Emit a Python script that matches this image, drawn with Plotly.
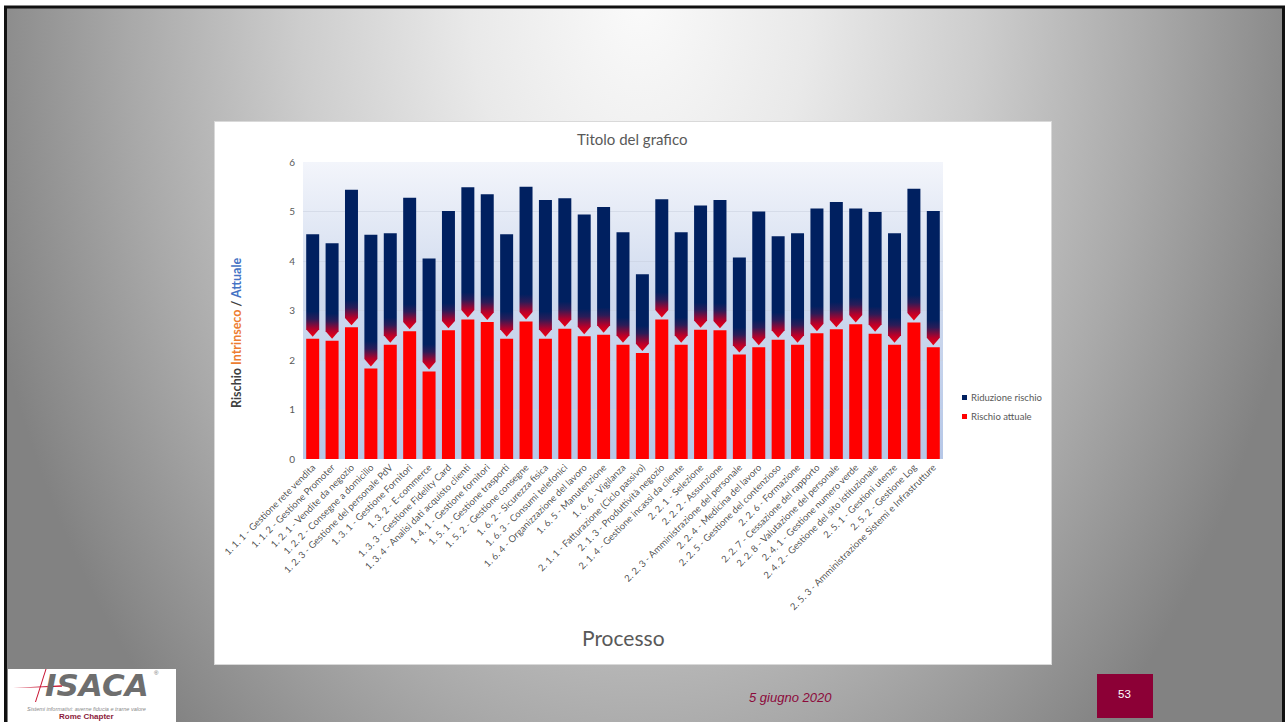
import base64
import plotly.graph_objects as go

# ---------------------------------------------------------------- data
categories = [
    "1. 1. 1 - Gestione rete vendita",
    "1. 1. 2 - Gestione Promoter",
    "1. 2. 1 - Vendite da negozio",
    "1. 2. 2 - Consegne a domicilio",
    "1. 2. 3 - Gestione del personale PdV",
    "1. 3. 1 - Gestione Fornitori",
    "1. 3. 2 - E-commerce",
    "1. 3. 3 - Gestione Fidelity Card",
    "1. 3. 4 - Analisi dati acquisto clienti",
    "1. 4. 1 - Gestione fornitori",
    "1. 5. 1 - Gestione trasporti",
    "1. 5. 2 - Gestione consegne",
    "1. 6. 2 - Sicurezza fisica",
    "1. 6. 3 - Consumi telefonici",
    "1. 6. 4 - Organizzazione del lavoro",
    "1. 6. 5 - Manutenzione",
    "1. 6. 6 - Vigilanza",
    "2. 1. 1 - Fatturazione (Ciclo passivo)",
    "2. 1. 3 - Produttività negozio",
    "2. 1. 4 - Gestione incassi da cliente",
    "2. 2. 1 - Selezione",
    "2. 2. 2 - Assunzione",
    "2. 2. 3 - Amministrazione del personale",
    "2. 2. 4 - Medicina del lavoro",
    "2. 2. 5 - Gestione del contenzioso",
    "2. 2. 6 - Formazione",
    "2. 2. 7 - Cessazione del rapporto",
    "2. 2. 8 - Valutazione del personale",
    "2. 4. 1 - Gestione numero verde",
    "2. 4. 2 - Gestione del sito istituzionale",
    "2. 5. 1 - Gestioni utenze",
    "2. 5. 2 - Gestione Log",
    "2. 5. 3 - Amministrazione Sistemi e Infrastrutture",
]

rischio_attuale = [
    2.43, 2.39, 2.66, 1.83, 2.31, 2.58, 1.77, 2.60, 2.82, 2.77, 2.43,
    2.78, 2.43, 2.63, 2.48, 2.51, 2.31, 2.14, 2.82, 2.31, 2.61, 2.60,
    2.11, 2.26, 2.41, 2.31, 2.54, 2.62, 2.72, 2.53, 2.31, 2.76, 2.26,
]

riduzione_rischio = [
    2.11, 1.97, 2.78, 2.70, 2.25, 2.70, 2.28, 2.41, 2.67, 2.58, 2.11,
    2.72, 2.80, 2.64, 2.46, 2.58, 2.27, 1.59, 2.43, 2.27, 2.51, 2.63,
    1.96, 2.74, 2.09, 2.25, 2.52, 2.57, 2.34, 2.46, 2.25, 2.70, 2.75,
]

y_ticks = [0, 1, 2, 3, 4, 5, 6]

# ---------------------------------------------------------------- page geometry
PAGE_W, PAGE_H = 1285, 722
PLOT_L, PLOT_R, PLOT_T, PLOT_B = 303, 943, 162, 459
PW, PH = PLOT_R - PLOT_L, PLOT_B - PLOT_T

def px(x):
    return (x - PLOT_L) / PW

def py(y):
    return (PLOT_B - y) / PH

NAVY = "#002060"
RED = "#FF0000"
TXT = "#595959"
TICK_TXT = "rgba(80,80,80,0.98)"
MAROON = "#8C0A3B"
CHART_FONT = "Lato"

# ---------------------------------------------------------------- backdrop (slide + chart frame)
svg = f"""<svg xmlns='http://www.w3.org/2000/svg' width='{PAGE_W}' height='{PAGE_H}' viewBox='0 0 {PAGE_W} {PAGE_H}' preserveAspectRatio='none'>
<defs>
<radialGradient id='slide' gradientUnits='userSpaceOnUse' cx='640' cy='0' r='1000'
  gradientTransform='matrix(0.68 0 0 1 204.8 0)'>
  <stop offset='0' stop-color='#fafafa'/>
  <stop offset='0.25' stop-color='#e9e9e9'/>
  <stop offset='0.5' stop-color='#cdcdcd'/>
  <stop offset='0.75' stop-color='#a9a9a9'/>
  <stop offset='0.95' stop-color='#8a8a8a'/>
  <stop offset='1' stop-color='#828282'/>
</radialGradient>
<linearGradient id='plotbg' x1='0' y1='0' x2='0' y2='1'>
  <stop offset='0' stop-color='#f3f5fb'/>
  <stop offset='0.45' stop-color='#cfdaee'/>
  <stop offset='1' stop-color='#b6c7e7'/>
</linearGradient>
</defs>
<rect x='0' y='0' width='{PAGE_W}' height='{PAGE_H}' fill='#ffffff'/>
<rect x='5.5' y='7' width='1278' height='730' fill='url(#slide)' stroke='#111111' stroke-width='3'/>
<rect x='214.5' y='121.5' width='837' height='543' fill='#ffffff' stroke='#d9d9d9' stroke-width='1'/>
<rect x='{PLOT_L}' y='{PLOT_T}' width='{PW}' height='{PH}' fill='url(#plotbg)'/>
<rect x='8' y='669' width='168' height='60' fill='#ffffff'/>
<path d='M13 688 L62 685.3 L62 686.8 Z' fill='#c8102e'/>
<path d='M45.5 669 L46.5 669 L36 702 L35 702 Z' fill='#c8102e'/>
<rect x='1097' y='674' width='56' height='44' fill='#8C0036'/>
</svg>"""
backdrop_uri = "data:image/svg+xml;base64," + base64.b64encode(svg.encode("utf-8")).decode("ascii")

# ---------------------------------------------------------------- traces
fig = go.Figure()
xs = list(range(len(categories)))
BAR_W = 0.67
HW = BAR_W / 2
TIP_GAP = 0.04     # space between arrow tip and red bar
ARROW_H = 0.15     # height of the V-shaped bottom
FADE = 0.55        # height over which the navy fades into red

# "Rischio attuale" — red bars
fig.add_trace(go.Bar(
    x=xs, y=rischio_attuale, width=BAR_W,
    marker=dict(color=RED, line=dict(width=0)),
    name="Rischio attuale", showlegend=False, hoverinfo="skip",
))

# "Riduzione rischio" — navy segments stacked on the red bars,
# with a V-shaped bottom that fades into red
for i, (base, delta) in enumerate(zip(rischio_attuale, riduzione_rischio)):
    top = base + delta
    tip = base + TIP_GAP
    shoulder = tip + ARROW_H
    fig.add_trace(go.Scatter(
        x=[i - HW, i + HW, i + HW, i, i - HW, i - HW],
        y=[top, top, shoulder, tip, shoulder, top],
        mode="lines", line=dict(width=0, color="rgba(0,0,0,0)"),
        fill="toself",
        fillgradient=dict(
            type="vertical",
            colorscale=[[0, "#f00010"], [0.3, "#b8002a"], [0.7, "#2a1c58"], [1, NAVY]],
            start=tip, stop=base + FADE,
        ),
        showlegend=False, hoverinfo="skip",
    ))

# ---------------------------------------------------------------- text
def note(text, x, y, size, color, family=CHART_FONT, xanchor="center", angle=0, weight="normal"):
    return dict(text=text, x=px(x), y=py(y), xref="paper", yref="paper",
                xanchor=xanchor, yanchor="middle", textangle=angle,
                showarrow=False,
                font=dict(family=family, size=size, color=color, weight=weight))

annotations = [
    note("Titolo del grafico", 632, 139, 15, TXT),
    note("<b>Rischio <span style='color:#ED7D31'>Intrinseco</span> / "
         "<span style='color:#4472C4'>Attuale</span></b>",
         236, 333, 12.5, "#404040", angle=-90, weight="bold"),
    note("Processo", 623, 637, 21, TXT),
    note("Riduzione rischio", 969, 397.5, 9.5, TXT, xanchor="left"),
    note("Rischio attuale", 969, 416.5, 9.5, TXT, xanchor="left"),
    # slide footer
    note("<i>5 giugno 2020</i>", 790, 697, 13, MAROON, family="Liberation Sans"),
    note("53", 1124, 694, 11.5, "#ffffff", family="Liberation Sans"),
    # logo
    note("<i>ISACA</i>", 97, 685, 31, "#6e6e6e", family="DejaVu Sans", weight="bold"),
    note("®", 156, 673, 6, "#6e6e6e", family="Liberation Sans"),
    note("<i>Sistemi informativi: averne fiducia e trarne valore</i>", 86, 708.5, 5.5,
         "#8a8a8a", family="Liberation Sans"),
    note("Rome Chapter", 86, 716.5, 8, "#8B1A3A", family="Liberation Sans", weight="bold"),
]

legend_boxes = [
    dict(type="rect", xref="paper", yref="paper",
         x0=px(962), x1=px(967), y0=py(400), y1=py(395),
         fillcolor=NAVY, line=dict(width=0)),
    dict(type="rect", xref="paper", yref="paper",
         x0=px(962), x1=px(967), y0=py(419), y1=py(414),
         fillcolor=RED, line=dict(width=0)),
]

fig.update_layout(
    width=PAGE_W, height=PAGE_H,
    margin=dict(l=PLOT_L, r=PAGE_W - PLOT_R, t=PLOT_T, b=PAGE_H - PLOT_B, pad=0),
    paper_bgcolor="#ffffff", plot_bgcolor="rgba(0,0,0,0)",
    showlegend=False,
    images=[dict(
        source=backdrop_uri, xref="paper", yref="paper",
        x=px(0), y=py(0), sizex=PAGE_W / PW, sizey=PAGE_H / PH,
        xanchor="left", yanchor="top", sizing="stretch", layer="below",
    )],
    shapes=legend_boxes,
    annotations=annotations,
    xaxis=dict(
        range=[-0.5, len(categories) - 0.5],
        tickmode="array", tickvals=xs, ticktext=categories,
        tickangle=-45, tickfont=dict(family=CHART_FONT, size=9.5, color=TICK_TXT),
        showgrid=False, zeroline=False, showline=False, ticks="",
        fixedrange=True,
    ),
    yaxis=dict(
        range=[0, 6], tickmode="array", tickvals=y_ticks,
        tickfont=dict(family=CHART_FONT, size=10, color=TXT),
        showgrid=True, gridcolor="rgba(200,208,222,0.55)", gridwidth=1,
        zeroline=False, showline=False, ticks="",
        ticklabelstandoff=7, fixedrange=True,
    ),
    barmode="overlay",
)

fig.write_html("out.html", config={"displayModeBar": False})
